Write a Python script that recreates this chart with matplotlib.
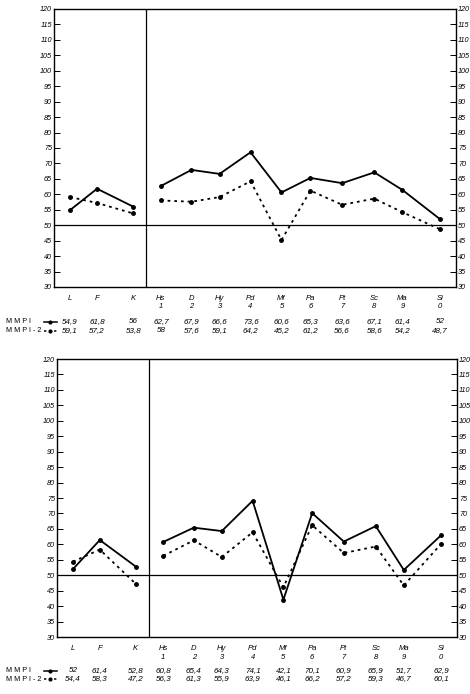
"""MMPI vs MMPI-2 profile comparison, two cases."""
import matplotlib

matplotlib.use("Agg")
import matplotlib.pyplot as plt
from matplotlib.lines import Line2D

plt.rcParams["font.family"] = ["Liberation Sans", "DejaVu Sans"]

scales = ["L", "F", "K", "Hs", "D", "Hy", "Pd", "Mf", "Pa", "Pt", "Sc", "Ma", "Si"]
scale_nums = ["", "", "", "1", "2", "3", "4", "5", "6", "7", "8", "9", "0"]

case1_mmpi = [54.9, 61.8, 56, 62.7, 67.9, 66.6, 73.6, 60.6, 65.3, 63.6, 67.1, 61.4, 52]
case1_mmpi2 = [59.1, 57.2, 53.8, 58, 57.6, 59.1, 64.2, 45.2, 61.2, 56.6, 58.6, 54.2, 48.7]

case2_mmpi = [52, 61.4, 52.8, 60.8, 65.4, 64.3, 74.1, 42.1, 70.1, 60.9, 65.9, 51.7, 62.9]
case2_mmpi2 = [54.4, 58.3, 47.2, 56.3, 61.3, 55.9, 63.9, 46.1, 66.2, 57.2, 59.3, 46.7, 60.1]

y_ticks = list(range(30, 121, 5))

# horizontal layout of the profile sheet (0-100 across the plot box)
xpos = [4, 10.7, 19.7, 26.6, 34.2, 41.2, 48.9, 56.6, 63.8, 71.7, 79.7, 86.7, 96.0]
divider = 22.9
n_validity = 3


def fmt(v):
    s = f"{v:.1f}".rstrip("0").rstrip(".")
    return s.replace(".", ",")


def draw_profile(fig, rect, mmpi, mmpi2, rows):
    ax = fig.add_axes(rect)
    ax.set_xlim(0, 100)
    ax.set_ylim(30, 120)
    for spine in ax.spines.values():
        spine.set_linewidth(1.0)

    ax.set_xticks([])
    ax.set_yticks(y_ticks)
    ax.set_yticklabels([str(t) for t in y_ticks], fontsize=5.2, style="italic")
    ax.tick_params(axis="y", direction="in", length=4, width=0.7, pad=1.5,
                   left=True, right=True, labelleft=True, labelright=True)

    ax.axhline(50, color="black", lw=0.9)
    ax.axvline(divider, color="black", lw=0.9)

    groups = [slice(0, n_validity), slice(n_validity, len(scales))]
    for sl in groups:
        ax.plot(xpos[sl], mmpi[sl], color="black", lw=1.3, marker="o", ms=2.5)
        ax.plot(xpos[sl], mmpi2[sl], color="black", lw=1.3, ls=(0, (1.5, 2.2)),
                marker="o", ms=2.5)

    trans = ax.get_xaxis_transform()
    y1, y2, y3, y4 = rows
    for x, name, num, a, b in zip(xpos, scales, scale_nums, mmpi, mmpi2):
        ax.text(x, y1, name, transform=trans, ha="center", va="center",
                fontsize=5.5, style="italic")
        if num:
            ax.text(x, y2, num, transform=trans, ha="center", va="center",
                    fontsize=5.5, style="italic")
        ax.text(x, y3, fmt(a), transform=trans, ha="center", va="center",
                fontsize=5.8, style="italic")
        ax.text(x, y4, fmt(b), transform=trans, ha="center", va="center",
                fontsize=5.8, style="italic")

    # row labels with line keys
    fig_y3 = ax.transAxes.transform((0, y3))[1] / fig.bbox.height
    fig_y4 = ax.transAxes.transform((0, y4))[1] / fig.bbox.height
    fig.text(0.012, fig_y3, "M M P I", fontsize=5.2, va="center")
    fig.text(0.012, fig_y4, "M M P I - 2", fontsize=5.2, va="center")
    fig.add_artist(Line2D([0.093, 0.107, 0.121], [fig_y3] * 3, color="black", lw=1.1,
                          marker="o", markevery=[1], ms=2.0,
                          transform=fig.transFigure))
    fig.add_artist(Line2D([0.093, 0.107, 0.121], [fig_y4] * 3, color="black", lw=1.1,
                          ls=(0, (1.5, 1.8)), marker="o", markevery=[1], ms=2.0,
                          transform=fig.transFigure))
    return ax


def main() -> None:
    fig = plt.figure(figsize=(4.7, 6.94), dpi=100)
    draw_profile(fig, [0.115, 0.5865, 0.855, 0.4006], case1_mmpi, case1_mmpi2,
                 (-0.043, -0.072, -0.126, -0.158))
    draw_profile(fig, [0.1213, 0.0821, 0.851, 0.4006], case2_mmpi, case2_mmpi2,
                 (-0.040, -0.072, -0.122, -0.151))
    fig.savefig("out.png", dpi=100)


if __name__ == "__main__":
    main()
